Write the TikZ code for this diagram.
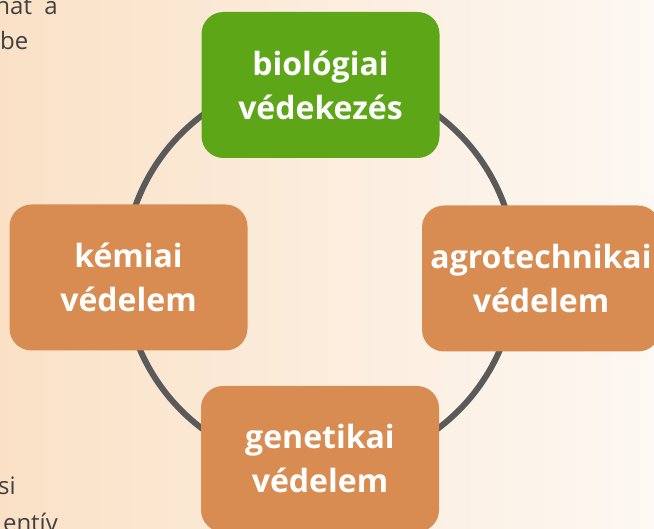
\documentclass[tikz,border=0pt]{standalone}
\usepackage{fontspec}
\setmainfont{Open Sans}
\definecolor{peach}{HTML}{FAE1C6}
\definecolor{cream}{HTML}{FDF8F3}
\definecolor{leafgreen}{HTML}{5CA618}
\definecolor{clayorange}{HTML}{D98C52}
\definecolor{ringgray}{HTML}{5A5A5A}
\definecolor{textgray}{HTML}{404040}
\tikzset{
  methodbox/.style={rounded corners=22pt, minimum width=238pt, minimum height=146pt,
    inner sep=0pt, align=center, text=white, font=\fontsize{32}{44}\selectfont\bfseries},
  sidetext/.style={text=textgray, font=\fontsize{24}{30}\selectfont, inner sep=0pt}
}
\begin{document}
\begin{tikzpicture}[x=1pt, y=-1pt]
\useasboundingbox (0,0) rectangle (654,529);
\clip (0,0) rectangle (654,529);
\shade[left color=peach, right color=cream] (0,0) rectangle (654,529);
% cut-off text at the left edge
\node[sidetext, anchor=base east] (line1) at (58,15) {hat\ \ a};
\node[sidetext, anchor=base west] (line2) at (0,50) {be};
\node[sidetext, anchor=base west] (line3) at (-2,495) {si};
\node[sidetext, anchor=base east] (line4) at (58,531) {entív};
% ring
\draw[ringgray, line width=6pt] (320,272) circle (196);
% boxes
\node[methodbox, fill=leafgreen] (bio) at (320.5,85) {biológiai\\védekezés};
\node[methodbox, fill=clayorange] (agro) at (541,278.5) {agrotechnikai\\védelem};
\node[methodbox, fill=clayorange] (gen) at (320,459) {genetikai\\védelem};
\node[methodbox, fill=clayorange] (chem) at (128.5,277.5) {kémiai\\védelem};
\end{tikzpicture}
\end{document}
